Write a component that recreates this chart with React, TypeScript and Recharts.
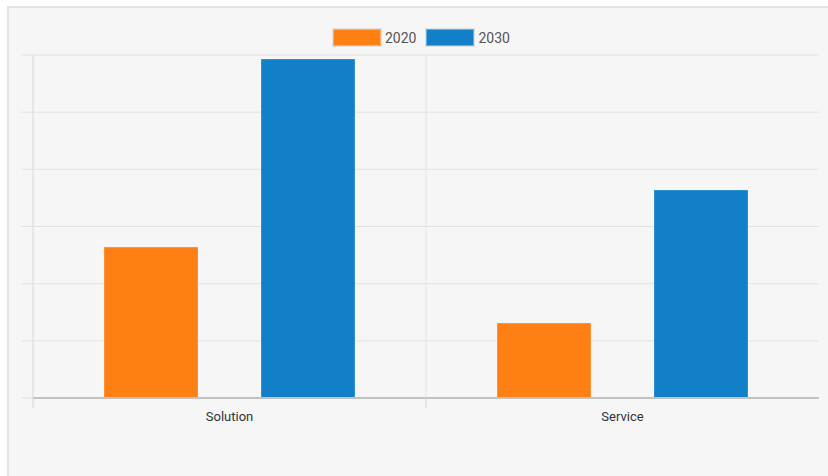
import React from "react";
import { BarChart, Bar, XAxis, YAxis, CartesianGrid, Legend } from "recharts";

const categories = ["Solution", "Service"];
const series2020 = [2.64, 1.31];
const series2030 = [5.93, 3.64];
const seriesNames = ["2020", "2030"];
const seriesColors = ["#fe8015", "#1180c9"];
const yTicks = [0, 1, 2, 3, 4, 5, 6];
const boundaryTicks = [0, 1];
const innerBoundaries = [1];

const data = categories.map((name, i) => ({
  name,
  idx: i,
  "2020": series2020[i],
  "2030": series2030[i],
}));

const FONT = "Roboto, 'Liberation Sans', Arial, sans-serif";

const EmptyTick = () => <g />;

const renderLegend = (props: any) => {
  const { payload } = props;
  return (
    <div style={{ display: "flex", alignItems: "center", fontFamily: FONT }}>
      {payload.map((p: any, i: number) => (
        <div key={i} style={{ display: "flex", alignItems: "center", marginRight: 10 }}>
          <div
            style={{
              width: 46,
              height: 15,
              background: p.color,
              border: "1px solid rgba(255,255,255,0.35)",
              boxShadow: "0 0 0 1px rgba(0,0,0,0.08)",
              marginRight: 4,
            }}
          />
          <span style={{ fontSize: 14, color: "#555", lineHeight: "16px" }}>{p.value}</span>
        </div>
      ))}
    </div>
  );
};

export default function App() {
  return (
    <div style={{ position: "absolute", left: 0, top: 0, width: 828, height: 476 }}>
      <div
        style={{
          position: "absolute",
          left: 7,
          top: 6,
          width: 821,
          height: 470,
          background: "#f6f6f6",
          borderLeft: "2px solid #e3e3e3",
          borderTop: "2px solid #e3e3e3",
          boxSizing: "border-box",
        }}
      />
      <div style={{ position: "absolute", left: 0, top: 0 }}>
        <BarChart
          width={828}
          height={476}
          data={data}
          margin={{ top: 55, right: 9, left: 21, bottom: 38 }}
          barGap={63}
          barSize={94}
        >
          <CartesianGrid
            xAxisId="bound"
            stroke="#e2e2e2"
            strokeWidth={1}
            horizontal={true}
            vertical={true}
            verticalValues={innerBoundaries}
          />
          <YAxis
            width={12}
            domain={[0, 6]}
            ticks={yTicks}
            interval={0}
            tick={<EmptyTick />}
            tickSize={12}
            tickLine={{ stroke: "#e2e2e2" }}
            axisLine={{ stroke: "#d6d6d6" }}
            allowDataOverflow
          />
          <XAxis
            xAxisId="bound"
            type="number"
            dataKey="idx"
            domain={[0, categories.length]}
            allowDataOverflow
            ticks={boundaryTicks}
            interval={0}
            tick={<EmptyTick />}
            tickSize={10}
            height={1}
            tickLine={{ stroke: "#d6d6d6" }}
            axisLine={{ stroke: "#c2c2c2", strokeWidth: 2 }}
          />
          <XAxis
            xAxisId="cat"
            dataKey="name"
            height={39}
            tickLine={false}
            axisLine={false}
            tick={{ fontSize: 13, fill: "#333", fontFamily: FONT, dy: 5 }}
          />
          <Legend
            verticalAlign="middle"
            align="center"
            layout="horizontal"
            content={renderLegend}
            wrapperStyle={{ top: 29, left: 333, width: 300 }}
          />
          {seriesNames.map((s, i) => (
            <Bar
              key={s}
              xAxisId="cat"
              dataKey={s}
              name={s}
              fill={seriesColors[i]}
              stroke="rgba(255,255,255,0.25)"
              strokeWidth={1}
              isAnimationActive={false}
            />
          ))}
        </BarChart>
      </div>
    </div>
  );
}
